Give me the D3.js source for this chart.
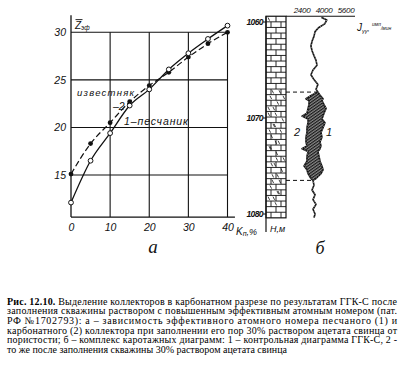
<!DOCTYPE html>
<html>
<head>
<meta charset="utf-8">
<script src="https://cdn.jsdelivr.net/npm/d3@7"></script>
<style>
  body { margin: 0; background: #fff; }
  svg { display: block; }
  .tick-lbl { font-family: "Liberation Sans Narrow", "Liberation Sans", Arial, sans-serif; font-style: italic; }
</style>
</head>
<body>
<svg id="fig" width="417" height="366"></svg>
<script>
// ---- Panel а: effective atomic number of the reservoir vs porosity ----
const porosity   = [0, 5, 10, 15, 20, 25, 30, 35, 40];
const zSandstone = [12.1, 16.5, 19.4, 22.3, 24.0, 26.1, 27.8, 29.3, 30.7];   // 1 – песчаник
const zLimestone = [15.1, 18.3, 20.5, 22.7, 24.4, 25.8, 27.4, 28.8, 30.0];   // 2 – известняк
const porosityTicks = [0, 10, 20, 30, 40];
const zTicks = [15, 20, 25, 30];

// ---- Panel б: GGK-S logs (count rate, imp/min) vs depth, m ----
const logDepth   = [1059.5, 1059.8, 1060.2, 1060.6, 1061.0, 1061.5, 1062.0, 1062.5, 1063.0, 1063.5,
                    1064.0, 1064.5, 1065.0, 1065.5, 1066.0, 1066.5, 1067.0, 1067.3, 1067.6, 1068.0,
                    1068.2, 1068.6, 1069.0, 1069.5, 1069.8, 1070.1, 1070.5, 1071.0, 1071.5, 1072.0,
                    1072.5, 1072.9, 1073.2, 1073.5, 1074.0, 1074.5, 1075.0, 1075.4, 1075.8, 1076.3,
                    1076.5, 1077.0, 1077.5, 1078.0, 1078.5, 1079.0, 1079.5, 1080.0, 1080.4];
const logControl = [3800, 4200, 4050, 3600, 3350, 3270, 3130, 3050, 3130, 3270,
                    3420, 3490, 3200, 3050, 3270, 3560, 3420, 3560, 3700, 3930,
                    3850, 4000, 4150, 4000, 3930, 3850, 4070, 3930, 3780, 3850,
                    3710, 3780, 3710, 3560, 3640, 3710, 3850, 3930, 3780, 3420,
                    3200, 3270, 3130, 3350, 3200, 3420, 3200, 3350, 3270];
const logAfter   = [3800, 4200, 4050, 3600, 3350, 3270, 3130, 3050, 3130, 3270,
                    3420, 3490, 3200, 3050, 3270, 3560, 3420, 3560, 3130, 2690,
                    2910, 2910, 2840, 2760, 2400, 2840, 2840, 2760, 2760, 2690,
                    2690, 2760, 2400, 2840, 2760, 2760, 2550, 2760, 2840, 3050,
                    3200, 3270, 3130, 3350, 3200, 3420, 3200, 3350, 3270];
const depthTicks = [1060, 1070, 1080];
const countTicks = [2400, 4000, 5600];
const collectorTop = 1067.3;
const collectorBottom = 1076.5;

// ---- Caption ----
const captionLines = [
  ["Рис. 12.10.", " Выделение коллекторов в карбонатном разрезе по результатам ГГК-С после"],
  ["", "заполнения скважины раствором с повышенным эффективным атомным номером (пат."],
  ["", "РФ №1702793): а – зависимость эффективного атомного номера песчаного (1) и"],
  ["", "карбонатного (2) коллектора при заполнении его пор 30% раствором ацетата свинца от"],
  ["", "пористости; б – комплекс каротажных диаграмм: 1 – контрольная диаграмма ГГК-С, 2 -"],
  ["", "то же после заполнения скважины 30% раствором ацетата свинца"]
];

const svg = d3.select("#fig");
const ink = "#111";

// ================= Panel а =================
const x = d3.scaleLinear().domain([0, 40]).range([71, 227.5]);
const y = d3.scaleLinear().domain([15, 30]).range([175, 32.3]);
const yMin = 10.58, yMax = 31.8, xAxisEnd = 41.9;

const pa = svg.append("g");

// grid
pa.selectAll("line.vg").data(porosityTicks.filter(d => d > 0)).join("line")
  .attr("x1", d => x(d)).attr("x2", d => x(d))
  .attr("y1", y(yMin)).attr("y2", y(30))
  .attr("stroke", ink).attr("stroke-width", 1.1);
pa.selectAll("line.hg").data(zTicks).join("line")
  .attr("x1", x(0)).attr("x2", x(40))
  .attr("y1", d => y(d)).attr("y2", d => y(d))
  .attr("stroke", ink).attr("stroke-width", 1.1);

// axes lines
pa.append("line").attr("x1", x(0)).attr("x2", x(0)).attr("y1", y(yMin)).attr("y2", y(yMax))
  .attr("stroke", ink).attr("stroke-width", 1.3);
pa.append("line").attr("x1", x(0)).attr("x2", x(xAxisEnd)).attr("y1", y(yMin)).attr("y2", y(yMin))
  .attr("stroke", ink).attr("stroke-width", 1.3);

// tick labels via d3 axes
const yAx = pa.append("g").attr("transform", `translate(${x(0)},0)`)
  .call(d3.axisLeft(y).tickValues(zTicks).tickSize(0).tickPadding(5));
yAx.select(".domain").remove();
yAx.selectAll("text").attr("class", "tick-lbl").attr("font-size", 10.5).attr("fill", ink);

const xAx = pa.append("g").attr("transform", `translate(0,${y(yMin)})`)
  .call(d3.axisBottom(x).tickValues(porosityTicks).tickSize(0).tickPadding(6));
xAx.select(".domain").remove();
xAx.selectAll("text").attr("class", "tick-lbl").attr("font-size", 10.5).attr("fill", ink);

// axis titles
const zt = pa.append("text").attr("class", "tick-lbl").attr("x", x(0) + 4).attr("y", 28.5)
  .attr("font-size", 10).attr("fill", ink);
zt.append("tspan").text("Z");
zt.append("tspan").attr("font-size", 6.5).attr("dy", 1.5).text("эф");
pa.append("line").attr("x1", x(0) + 4.5).attr("x2", x(0) + 11.5).attr("y1", 19.6).attr("y2", 19.6)
  .attr("stroke", ink).attr("stroke-width", 0.9);

const kt = pa.append("text").attr("class", "tick-lbl").attr("x", 236).attr("y", 234.5)
  .attr("font-size", 10).attr("fill", ink);
kt.append("tspan").text("K");
kt.append("tspan").attr("font-size", 7).attr("dy", 1.5).text("п");
kt.append("tspan").attr("dy", -1.5).attr("font-size", 9).text(",%");

// curves
const pts = (ys) => porosity.map((p, i) => [p, ys[i]]);
const line = d3.line().x(d => x(d[0])).y(d => y(d[1])).curve(d3.curveMonotoneX);

pa.append("path").attr("d", line(pts(zLimestone)))
  .attr("fill", "none").attr("stroke", ink).attr("stroke-width", 1.2).attr("stroke-dasharray", "6,3");
pa.append("path").attr("d", line(pts(zSandstone)))
  .attr("fill", "none").attr("stroke", ink).attr("stroke-width", 1.3);

pa.selectAll("circle.lime").data(pts(zLimestone)).join("circle")
  .attr("cx", d => x(d[0])).attr("cy", d => y(d[1])).attr("r", 2.4).attr("fill", ink);
pa.selectAll("circle.sand").data(pts(zSandstone)).join("circle")
  .attr("cx", d => x(d[0])).attr("cy", d => y(d[1])).attr("r", 2.4)
  .attr("fill", "#fff").attr("stroke", ink).attr("stroke-width", 1);

// series labels
pa.append("text").attr("class", "tick-lbl").attr("x", 77).attr("y", 96).attr("font-size", 9.5)
  .attr("textLength", 57).attr("lengthAdjust", "spacing").attr("fill", ink).text("известняк");
pa.append("text").attr("class", "tick-lbl").attr("x", 113).attr("y", 109.5).attr("font-size", 10.5)
  .attr("fill", ink).text("–2");
pa.append("text").attr("class", "tick-lbl").attr("x", 124).attr("y", 124.5).attr("font-size", 10.5)
  .attr("textLength", 64).attr("lengthAdjust", "spacing").attr("fill", ink).text("1–песчаник");

pa.append("text").attr("x", 153).attr("y", 253).attr("text-anchor", "middle")
  .attr("font-family", "Liberation Serif, serif").attr("font-style", "italic")
  .attr("font-size", 19).attr("fill", ink).text("а");

// ================= Panel б =================
const yd = d3.scaleLinear().domain([1060, 1080]).range([22, 214]);
const xv = d3.scaleLinear().domain([2400, 5600]).range([302, 346]);
const colL = 266, colR = 286;
const colTop = yd(1059.4), colBot = yd(1080.4);

const pb = svg.append("g");

// hatch pattern for the collector anomaly
const defs = svg.append("defs");
const pat = defs.append("pattern").attr("id", "hatch").attr("patternUnits", "userSpaceOnUse")
  .attr("width", 2.4).attr("height", 2.4).attr("patternTransform", "rotate(-35)");
pat.append("rect").attr("width", 2.4).attr("height", 2.4).attr("fill", "#888");
pat.append("line").attr("x1", 0).attr("x2", 2.4).attr("y1", 0.6).attr("y2", 0.6)
  .attr("stroke", "#111").attr("stroke-width", 1.1);

// lithology column: limestone bricks
const nRows = 36;
const rowH = (colBot - colTop) / nRows;
const col = pb.append("g").attr("stroke", ink).attr("stroke-width", 0.9).attr("fill", "none");
col.append("rect").attr("x", colL).attr("y", colTop).attr("width", colR - colL).attr("height", colBot - colTop)
  .attr("stroke-width", 1.2);
d3.range(nRows).forEach(i => {
  const y0 = colTop + i * rowH;
  if (i > 0) col.append("line").attr("x1", colL).attr("x2", colR).attr("y1", y0).attr("y2", y0);
  const joints = i % 2 === 0 ? [colL + 10] : [colL + 5, colL + 15];
  joints.forEach(jx => col.append("line").attr("x1", jx).attr("x2", jx).attr("y1", y0).attr("y2", y0 + rowH));
  // fractures in the lower, porous part of the section
  const yMid = y0 + rowH / 2;
  if ((yMid > yd(1066.8) && yMid < yd(1079)) || i === 0) {
    const offs = [(i * 7) % 16 + 2, (i * 11 + 5) % 16 + 2];
    offs.slice(0, i % 3 === 0 ? 1 : 2).forEach(o => col.append("line")
      .attr("x1", colL + o).attr("x2", colL + o + 1.6)
      .attr("y1", y0 + 1.2).attr("y2", y0 + rowH - 1.2).attr("stroke-width", 0.8));
  }
});

// depth axis
pb.append("line").attr("x1", colL).attr("x2", colL).attr("y1", colTop).attr("y2", 232)
  .attr("stroke", ink).attr("stroke-width", 1.2);
pb.selectAll("line.dt").data(depthTicks).join("line")
  .attr("x1", colL - 3).attr("x2", colL).attr("y1", d => yd(d)).attr("y2", d => yd(d))
  .attr("stroke", ink).attr("stroke-width", 1);
pb.selectAll("text.dt").data(depthTicks).join("text").attr("class", "tick-lbl")
  .attr("x", colL - 3).attr("y", d => yd(d) + 3).attr("text-anchor", "end")
  .attr("font-size", 8.5).attr("font-weight", "bold").attr("letter-spacing", -0.6)
  .attr("fill", ink).text(d => d);
pb.append("text").attr("class", "tick-lbl").attr("x", colL + 4).attr("y", 232)
  .attr("font-size", 9).attr("fill", ink).text("H,м");

// count-rate axis along the top
pb.append("line").attr("x1", colR).attr("x2", 355).attr("y1", colTop).attr("y2", colTop)
  .attr("stroke", ink).attr("stroke-width", 1.1);
pb.selectAll("text.ct").data(countTicks).join("text").attr("class", "tick-lbl")
  .attr("x", d => xv(d)).attr("y", 13).attr("text-anchor", "middle")
  .attr("font-size", 8).attr("letter-spacing", -0.3).attr("fill", ink).text(d => d);
const jt = pb.append("text").attr("class", "tick-lbl").attr("x", 357).attr("y", 31)
  .attr("font-size", 10).attr("fill", ink);
jt.append("tspan").text("J");
jt.append("tspan").attr("font-size", 5.5).attr("dy", 1.5).text("γγ");
jt.append("tspan").attr("font-size", 8).attr("dy", -1.5).text(", ");
jt.append("tspan").attr("font-size", 5).attr("dy", -5).text("имп");
jt.append("tspan").attr("font-size", 5).attr("dy", 4).text("/мин");

// collector anomaly: area between the two logs
const logPts = logDepth.map((d, i) => ({ d, c: logControl[i], a: logAfter[i] }));
const inZone = p => p.d >= collectorTop && p.d <= collectorBottom;
const area = d3.area().y(p => yd(p.d)).x0(p => xv(p.a)).x1(p => xv(p.c));
pb.append("path").attr("d", area(logPts.filter(inZone))).attr("fill", "url(#hatch)");

// log curves (drawn as a dotted double trace)
const logLine = (key) => d3.line().x(p => xv(p[key])).y(p => yd(p.d));
[["c", logPts], ["a", logPts.filter(inZone)]].forEach(([key, data]) => {
  pb.append("path").attr("d", logLine(key)(data)).attr("fill", "none")
    .attr("stroke", ink).attr("stroke-width", 1.6).attr("stroke-linejoin", "round");
  pb.append("path").attr("d", logLine(key)(data)).attr("fill", "none")
    .attr("stroke", "#fff").attr("stroke-width", 0.5).attr("stroke-dasharray", "1.2,1.8");
});

// collector boundaries
[collectorTop, collectorBottom].forEach(dep => {
  const p = logPts.find(q => q.d === dep);
  pb.append("line").attr("x1", colR).attr("x2", xv(Math.min(p.a, p.c)))
    .attr("y1", yd(dep)).attr("y2", yd(dep))
    .attr("stroke", ink).attr("stroke-width", 1).attr("stroke-dasharray", "4,3");
});

// curve numbers
pb.append("text").attr("class", "tick-lbl").attr("x", 297).attr("y", 136).attr("text-anchor", "middle")
  .attr("font-size", 11).attr("fill", ink).text("2");
pb.append("text").attr("class", "tick-lbl").attr("x", 329).attr("y", 136).attr("text-anchor", "middle")
  .attr("font-size", 11).attr("fill", ink).text("1");

pb.append("text").attr("x", 320).attr("y", 254).attr("text-anchor", "middle")
  .attr("font-family", "Liberation Serif, serif").attr("font-style", "italic")
  .attr("font-size", 18).attr("fill", ink).text("б");

// ================= Caption =================
const cap = svg.append("g").attr("font-family", "Liberation Serif, 'Times New Roman', serif")
  .attr("font-size", 10).attr("fill", "#000");
captionLines.forEach(([bold, rest], i) => {
  const t = cap.append("text").attr("x", 7).attr("y", 304.7 + i * 9.66);
  if (i < captionLines.length - 1) t.attr("textLength", 390).attr("lengthAdjust", "spacing");
  if (bold) t.append("tspan").attr("font-weight", "bold").text(bold);
  t.append("tspan").text(rest);
});
</script>
</body>
</html>
